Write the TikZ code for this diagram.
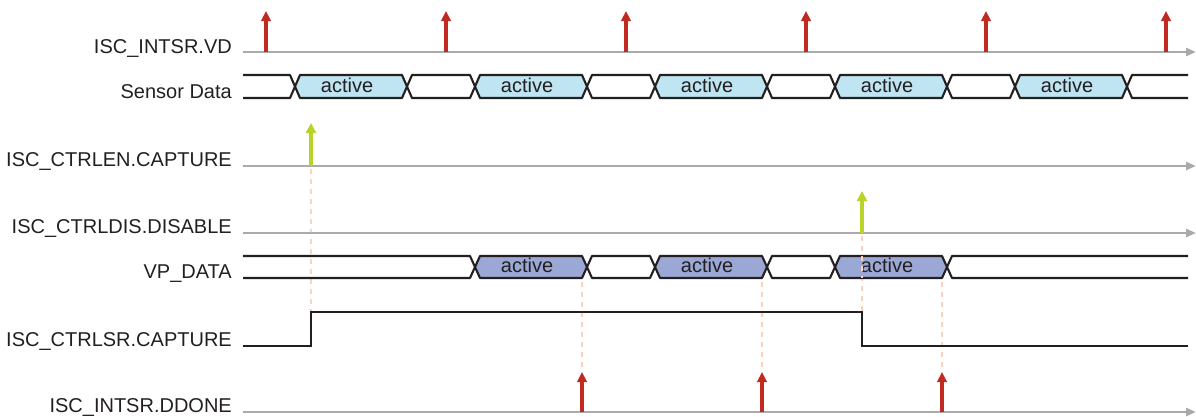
\documentclass[tikz,border=0pt]{standalone}
\usepackage{fontspec}
\setmainfont{Liberation Sans}
\usetikzlibrary{arrows.meta}
\definecolor{txt}{RGB}{35,31,32}
\definecolor{axisgray}{RGB}{170,170,173}
\definecolor{sigred}{RGB}{192,42,32}
\definecolor{siggreen}{RGB}{184,212,40}
\definecolor{busblue}{RGB}{190,229,241}
\definecolor{vpblue}{RGB}{155,168,214}
\definecolor{peach}{RGB}{252,210,188}
\newcommand\busseg[5]{%
  \path[busline, fill=#5] (#3,{(#1+#2)/2}) -- (#3+5,#1) -- (#4-5,#1) -- (#4,{(#1+#2)/2}) -- (#4-5,#2) -- (#3+5,#2) -- cycle;}
\tikzset{
  lbl/.style={anchor=base east, text=txt, font=\fontsize{20}{24}\selectfont, inner sep=0pt},
  actlbl/.style={anchor=base, text=txt, font=\fontsize{20}{24}\selectfont, inner sep=0pt},
  axisline/.style={draw=axisgray, line width=2.6pt, -{Triangle[length=10pt,width=8pt]}},
  busline/.style={draw=txt, line width=2.1pt, line join=round},
  redarr/.style={draw=sigred, line width=3.2pt, -{Triangle[length=10pt,width=9.5pt]}},
  grnarr/.style={draw=siggreen, line width=3.6pt, -{Triangle[length=10pt,width=10pt]}},
  guide/.style={draw=peach, line width=2.2pt, dash pattern=on 5pt off 5pt},
  wave/.style={draw=txt, line width=2.2pt, line join=miter},
}
\begin{document}
\begin{tikzpicture}[x=1pt,y=-1pt]
\useasboundingbox (0,0) rectangle (1196,416);
% labels
\node[lbl] (l1) at (232,53) {ISC\_INTSR.VD};
\node[lbl] (l2) at (232,98) {Sensor Data};
\node[lbl] (l3) at (232,166) {ISC\_CTRLEN.CAPTURE};
\node[lbl] (l4) at (232,233) {ISC\_CTRLDIS.DISABLE};
\node[lbl] (l5) at (232,278) {VP\_DATA};
\node[lbl] (l6) at (232,346) {ISC\_CTRLSR.CAPTURE};
\node[lbl] (l7) at (232,412) {ISC\_INTSR.DDONE};
% guide lines
\coordinate (g1a) at (311,169); \coordinate (g1b) at (311,312);
\coordinate (g2a) at (862,236); \coordinate (g2b) at (862,312);
\draw[guide] (g1a) -- (g1b);
\draw[guide] (g2a) -- (g2b);
\foreach \i/\x in {3/582,4/762,5/942}{
  \coordinate (g\i a) at (\x,282);
  \coordinate (g\i b) at (\x,372);
  \draw[guide] (g\i a) -- (g\i b);
}
% axis lines
\foreach \n/\y in {a/52,b/166,c/233,d/412}{
  \coordinate (ax\n s) at (243,\y);
  \coordinate (ax\n e) at (1196,\y);
  \draw[axisline] (ax\n s) -- (ax\n e);
}
% VD arrows
\foreach \i/\x in {1/266,2/446,3/626,4/806,5/986,6/1166}{
  \coordinate (vdb\i) at (\x,52);
  \coordinate (vdt\i) at (\x,11);
  \draw[redarr] (vdb\i) -- (vdt\i);
}
% green arrows
\coordinate (enb) at (311,166); \coordinate (ent) at (311,123);
\draw[grnarr] (enb) -- (ent);
\coordinate (disb) at (862,233); \coordinate (dist) at (862,191);
\draw[grnarr] (disb) -- (dist);
% DDONE arrows
\foreach \i/\x in {1/582,2/762,3/942}{
  \coordinate (ddb\i) at (\x,412);
  \coordinate (ddt\i) at (\x,372);
  \draw[redarr] (ddb\i) -- (ddt\i);
}
% Sensor data bus
\draw[busline] (243,75) -- (290,75) -- (295,86.5) -- (290,98) -- (243,98);
\foreach \a/\b in {295/407,475/587,655/767,835/947,1015/1127}{
  \busseg{75}{98}{\a}{\b}{busblue}
  \node[actlbl] at ({(\a+\b)/2-4},92.5) {active};
}
\foreach \a/\b in {407/475,587/655,767/835,947/1015}{
  \busseg{75}{98}{\a}{\b}{white}
}
\draw[busline] (1188,75) -- (1132,75) -- (1127,86.5) -- (1132,98) -- (1188,98);
% VP data bus
\draw[busline] (243,256) -- (470,256) -- (475,267) -- (470,278) -- (243,278);
\foreach \a/\b in {475/587,655/767,835/947}{
  \busseg{256}{278}{\a}{\b}{vpblue}
  \node[actlbl] at ({(\a+\b)/2-4},272.5) {active};
}
\foreach \a/\b in {587/655,767/835}{
  \busseg{256}{278}{\a}{\b}{white}
}
\draw[busline] (1188,256) -- (952,256) -- (947,267) -- (952,278) -- (1188,278);
% guide crossing VP bus at 862
\draw[guide] (862,256) -- (862,278);
% CTRLSR waveform
\coordinate (w0) at (243,346); \coordinate (w1) at (311,346); \coordinate (w2) at (311,312);
\coordinate (w3) at (862,312); \coordinate (w4) at (862,346); \coordinate (w5) at (1188,346);
\draw[wave] (w0) -- (w1) -- (w2) -- (w3) -- (w4) -- (w5);
\end{tikzpicture}
\end{document}
